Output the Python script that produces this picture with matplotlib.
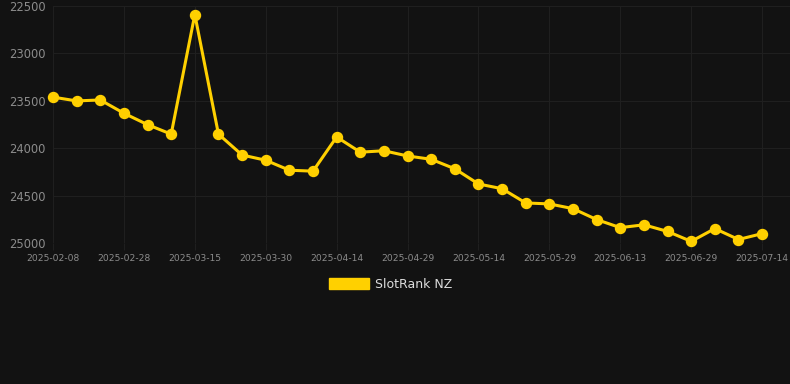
import matplotlib.pyplot as plt
from matplotlib.patches import Patch

# rank values (y axis is inverted: lower rank at top)
ranks = [23460, 23500, 23490, 23630, 23750, 23850, 22590, 23850, 24070, 24125,
         24230, 24240, 23880, 24040, 24025, 24080, 24115, 24215, 24375, 24425,
         24575, 24585, 24635, 24750, 24835, 24805, 24875, 24980, 24845, 24960,
         24898]
tick_labels = ['2025-02-08', '2025-02-28', '2025-03-15', '2025-03-30',
               '2025-04-14', '2025-04-29', '2025-05-14', '2025-05-29',
               '2025-06-13', '2025-06-29', '2025-07-14']
y_ticks = [22500, 23000, 23500, 24000, 24500, 25000]
series_name = 'SlotRank NZ'

bg = '#121212'
gold = '#ffd000'
grid_c = '#1f1f1f'
text_c = '#8c8c8c'

fig = plt.figure(figsize=(7.9, 3.84), dpi=100, facecolor=bg)
ax = fig.add_axes([53 / 790, 1 - 243.3 / 384, 1 - 53 / 790, (243.3 - 6) / 384])
ax.set_facecolor(bg)

x = list(range(len(ranks)))
ax.plot(x, ranks, color=gold, lw=2.2, marker='o', ms=7.2, zorder=3,
        clip_on=False)

ax.set_xlim(0, 31.18)
ax.set_ylim(25000, 22500)
ax.set_yticks(y_ticks)
ax.set_yticklabels([str(v) for v in y_ticks])
ax.set_xticks(x[::3])
ax.set_xticklabels(tick_labels)

ax.grid(True, color=grid_c, lw=0.8)
ax.set_axisbelow(True)
for s in ax.spines.values():
    s.set_visible(False)
ax.tick_params(axis='y', length=0, pad=5.5, labelsize=8.3, labelcolor=text_c)
ax.tick_params(axis='x', length=5, color=grid_c, pad=3, labelsize=6.6,
               labelcolor=text_c)

handle = Patch(facecolor=gold, edgecolor=gold)
fig.legend([handle], [series_name], loc='center', bbox_to_anchor=(0.494, 0.26),
           frameon=False, fontsize=9, labelcolor='#dddddd',
           handlelength=3.2, handleheight=1.0, handletextpad=0.5)

fig.savefig('out.png', dpi=100, facecolor=bg)
